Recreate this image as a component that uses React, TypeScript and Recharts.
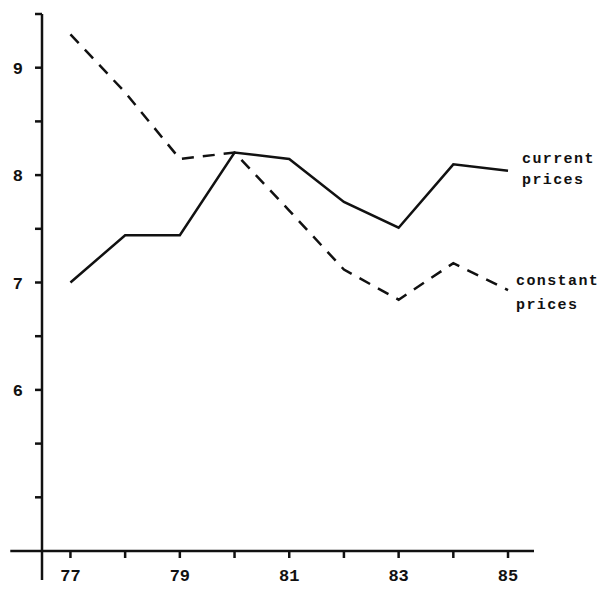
import React from "react";
import { LineChart, Line, XAxis, YAxis, ReferenceLine, LabelList } from "recharts";

const years = [77, 78, 79, 80, 81, 82, 83, 84, 85];
const currentPrices = [7.0, 7.44, 7.44, 8.21, 8.15, 7.75, 7.51, 8.1, 8.04];
const constantPrices = [9.31, 8.77, 8.15, 8.21, 7.67, 7.12, 6.84, 7.18, 6.93];
const yTicks = [5, 5.5, 6, 6.5, 7, 7.5, 8, 8.5, 9, 9.5];
const yLabels = [6, 7, 8, 9];
const xLabels = [77, 79, 81, 83, 85];
const currentLabel = ["current", "prices"];
const constantLabel = ["constant", "prices"];

const data = years.map((y, i) => ({ year: y, current: currentPrices[i], constant: constantPrices[i] }));

const INK = "#111";
const MONO = "'Liberation Mono', 'DejaVu Sans Mono', monospace";

const makeEndLabel = (lines: string[], dx: number, dys: number[]) => (props: any) => {
  const { x, y, index } = props;
  if (index !== years.length - 1) return null;
  return (
    <g>
      {lines.map((t, i) => (
        <text key={i} x={Number(x) + dx} y={Number(y) + dys[i]} fontFamily={MONO} fontWeight="bold" fontSize={15} letterSpacing={1.4} fill={INK}>
          {t}
        </text>
      ))}
    </g>
  );
};

export default function App() {
  return (
    <LineChart width={598} height={582} data={data} margin={{ top: 6, right: 72, left: 0, bottom: 0 }}>
      <XAxis
        dataKey="year"
        type="number"
        domain={[76.48, 85.475]}
        ticks={years}
        allowDataOverflow
        tickFormatter={(v: number) => (xLabels.includes(v) ? String(v) : "")}
        height={39}
        tickSize={7}
        tickMargin={11}
        stroke={INK}
        strokeWidth={2.5}
        tick={{ fontFamily: MONO, fontWeight: "bold", fontSize: 17, fill: INK }}
      />
      <YAxis
        type="number"
        domain={[4.5, 9.5]}
        ticks={yTicks}
        allowDataOverflow
        tickFormatter={(v: number) => (yLabels.includes(v) ? String(v) : "")}
        width={34}
        tickSize={7}
        tickMargin={12}
        stroke={INK}
        strokeWidth={2.5}
        tick={{ fontFamily: MONO, fontWeight: "bold", fontSize: 17, fill: INK }}
      />
      <ReferenceLine
        segment={[{ x: 75.9, y: 4.5 }, { x: 76.48, y: 4.5 }]}
        ifOverflow="visible"
        stroke={INK}
        strokeWidth={2.5}
      />
      <ReferenceLine
        segment={[{ x: 76.48, y: 4.5 }, { x: 76.48, y: 4.23 }]}
        ifOverflow="visible"
        stroke={INK}
        strokeWidth={2.5}
      />
      <Line
        dataKey="current"
        stroke={INK}
        strokeWidth={2.5}
        dot={false}
        activeDot={false}
        isAnimationActive={false}
      >
        <LabelList dataKey="current" content={makeEndLabel(currentLabel, 14, [-8, 13])} />
      </Line>
      <Line
        dataKey="constant"
        stroke={INK}
        strokeWidth={2.5}
        strokeDasharray="12 9"
        dot={false}
        activeDot={false}
        isAnimationActive={false}
      >
        <LabelList dataKey="constant" content={makeEndLabel(constantLabel, 8, [-5, 19])} />
      </Line>
    </LineChart>
  );
}
